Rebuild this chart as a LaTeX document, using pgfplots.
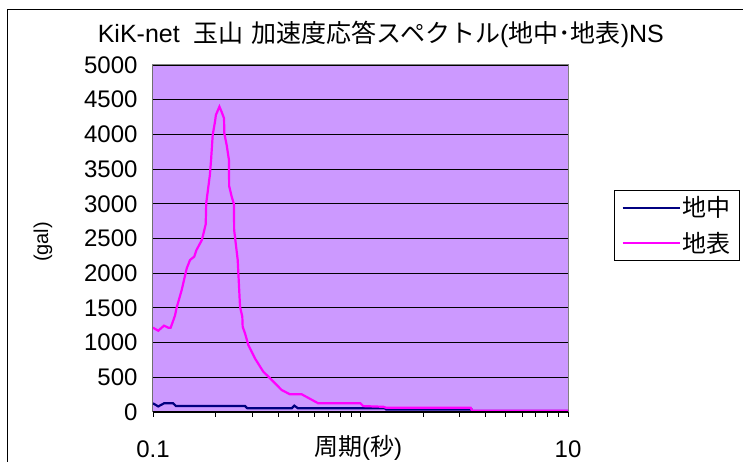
\documentclass[border=0pt]{standalone}
\usepackage{fontspec}
\setmainfont{Liberation Sans}
\newfontfamily\cjk{Noto Sans CJK JP}
\usepackage{pgfplots}
\pgfplotsset{compat=1.18}
\definecolor{plotbg}{HTML}{CC99FF}
\definecolor{navyc}{HTML}{000080}
\definecolor{magc}{HTML}{FF00FF}
\begin{document}
\begin{tikzpicture}[x=1pt,y=1pt]
\useasboundingbox (0,0) rectangle (743,462);
\fill[white] (0,0) rectangle (743,462);
\draw[black,line width=1pt] (7.3,0) -- (7.3,452.7) -- (743,452.7);
\begin{axis}[
  at={(153pt,50pt)}, anchor=south west, scale only axis,
  width=415pt, height=347pt,
  xmode=log, xmin=0.1, xmax=10, ymin=0, ymax=5000,
  axis background/.style={fill=plotbg},
  axis line style={draw=gray, line width=1pt},
  ytick={0,500,...,5000},
  ymajorgrids, major grid style={black, line width=0.9pt},
  xtick={0.1,1,10}, xticklabels={0.1,,10},
  minor xtick={0.2,0.3,0.4,0.5,0.6,0.7,0.8,0.9,2,3,4,5,6,7,8,9},
  tick align=outside, xtick pos=bottom, ytick pos=left,
  major tick length=5pt, minor tick length=5pt,
  every tick/.style={black, line width=0.8pt},
  ytick style={draw=none},
  scaled y ticks=false,
  yticklabel style={font=\fontsize{24}{28}\selectfont, xshift=-7pt, /pgf/number format/1000 sep={}},
  xticklabel style={font=\fontsize{24}{28}\selectfont, yshift=-20pt},
  /pgf/number format/assume math mode=true,
  log ticks with fixed point,
  xlabel={{\cjk 周期}({\cjk 秒})},
  xlabel style={at={(axis description cs:0.494,-0.104)}, anchor=center, font=\fontsize{24}{28}\selectfont},
  ylabel={(gal)},
  ylabel style={at={(axis description cs:-0.265,0.49)}, anchor=center, font=\fontsize{20}{24}\selectfont},
  title={KiK-net\hspace{14pt}{\cjk 玉山}\hspace{8pt}{\cjk 加速度応答スペクトル}({\cjk 地中･地表})NS},
  title style={at={(axis description cs:0.549,1.072)}, anchor=center, font=\fontsize{25}{30}\selectfont},
  legend style={at={(axis description cs:1.111,0.640)}, anchor=north west, draw=black, line width=0.8pt, fill=white,
    font=\fontsize{24}{28}\selectfont\cjk, inner xsep=7pt, inner ysep=4.5pt, row sep=10pt},
  legend cell align=left,
  legend image code/.code={\draw[#1, line width=2.2pt] (0pt,0pt) -- (57pt,0pt);},
]
\addplot[navyc, line width=2.2pt] coordinates {
(0.100,125) (0.106,80) (0.113,125) (0.125,125) (0.129,86) (0.2776,86) (0.285,53)
(0.466,53) (0.48,91) (0.50,53) (1.31,53) (1.33,35) (3.43,35) (3.45,15) (10,15)
};
\addlegendentry{地中}
\addplot[magc, line width=2.2pt] coordinates {
(0.100,1215) (0.106,1171) (0.113,1244) (0.1185,1215) (0.1217,1215) (0.1276,1388)
(0.130,1503) (0.1375,1758) (0.1454,2070) (0.1508,2190) (0.158,2238) (0.162,2334)
(0.172,2478) (0.1795,2705) (0.1805,3007) (0.188,3415) (0.1905,3631) (0.194,3991)
(0.199,4183) (0.201,4280) (0.209,4400) (0.214,4327) (0.220,4232) (0.2206,4016)
(0.2265,3847) (0.2323,3631) (0.2328,3256) (0.2395,3102) (0.2456,2993) (0.2461,2622)
(0.256,2190) (0.2627,1517) (0.2694,1373) (0.2705,1229) (0.2776,1134) (0.288,965)
(0.310,773) (0.340,581) (0.360,509) (0.417,317) (0.457,255) (0.521,255) (0.626,125)
(1.0,125) (1.03,85) (1.29,75) (1.33,60) (3.40,60) (3.45,20) (10,20)
};
\addlegendentry{地表}
\draw[black, line width=1pt] (rel axis cs:0,1) -- (rel axis cs:0,0) -- (rel axis cs:1,0);
\end{axis}
\end{tikzpicture}
\end{document}
